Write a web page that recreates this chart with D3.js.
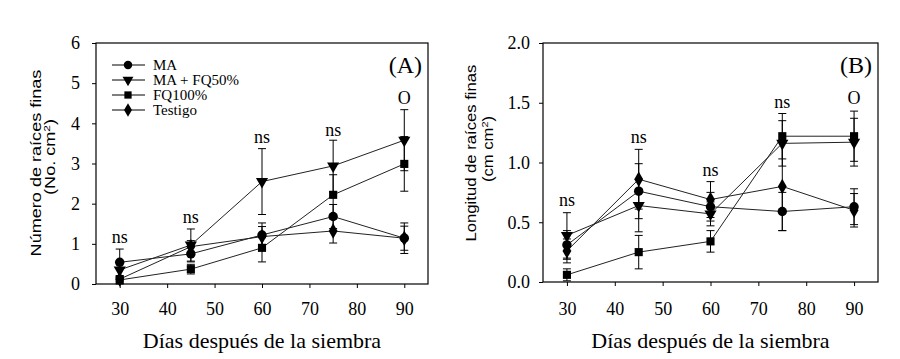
<!DOCTYPE html>
<html>
<head>
<meta charset="utf-8">
<script src="https://cdn.jsdelivr.net/npm/d3@7"></script>
<style>
  body { margin: 0; background: #fff; }
  svg { display: block; }
</style>
</head>
<body>
<svg id="chart" width="900" height="359"></svg>
<script>
const days = [30, 45, 60, 75, 90];
const seriesNames = ["MA", "MA + FQ50%", "FQ100%", "Testigo"];
const xTicks = [30, 40, 50, 60, 70, 80, 90];

// panel A: número de raíces finas
const aMA = [0.54, 0.75, 1.22, 1.68, 1.14];
const aMAFQ = [0.35, 0.97, 2.55, 2.94, 3.58];
const aFQ = [0.1, 0.37, 0.9, 2.22, 2.99];
const aTestigo = [0.12, 0.93, 1.18, 1.32, 1.14];
const aErrMA = [0.33, 0.2, 0.3, 0.3, 0.38];
const aErrMAFQ = [0.2, 0.4, 0.82, 0.64, 0.76];
const aErrFQ = [0.1, 0.12, 0.35, 0.5, 0.68];
const aErrTestigo = [0.05, 0.15, 0.25, 0.3, 0.3];
const aSig = ["ns", "ns", "ns", "ns", "O"];
const aSigY = [1.02, 1.52, 3.51, 3.68, 4.48];

// panel B: longitud de raíces finas
const bMA = [0.31, 0.76, 0.63, 0.59, 0.63];
const bMAFQ = [0.39, 0.64, 0.57, 1.16, 1.17];
const bFQ = [0.06, 0.25, 0.34, 1.22, 1.22];
const bTestigo = [0.26, 0.86, 0.69, 0.8, 0.6];
const bErrMA = [0.12, 0.23, 0.12, 0.16, 0.15];
const bErrMAFQ = [0.19, 0.22, 0.1, 0.19, 0.2];
const bErrFQ = [0.05, 0.14, 0.09, 0.19, 0.21];
const bErrTestigo = [0.1, 0.25, 0.15, 0.37, 0.14];
const bSig = ["ns", "ns", "ns", "ns", "O"];
const bSigY = [0.64, 1.16, 0.89, 1.46, 1.49];

const svg = d3.select("#chart");
const serif = "'Liberation Serif', 'Times New Roman', serif";
const sans = "'Liberation Sans', Arial, sans-serif";
const markers = [d3.symbolCircle, d3.symbolTriangle, d3.symbolSquare, d3.symbolDiamond];
const markerSize = [70, 64, 66, 68];

function drawPanel(opts) {
  const { left, right, top, bottom, yMax, yStep, yFmt, series, errors, sig, sigY, tag,
    yTitle, yTitleX, yTitleY, yTitleLen, xPad, yPad, showLegend } = opts;
  const g = svg.append("g");

  const x = d3.scaleLinear().domain([25, 95]).range([left, right]);
  const y = d3.scaleLinear().domain([0, yMax]).range([bottom, top]);

  // x axis
  const xAxis = g.append("g")
    .attr("transform", `translate(0,${bottom})`)
    .call(d3.axisBottom(x).tickValues(xTicks).tickSize(4).tickSizeOuter(0).tickPadding(xPad));
  xAxis.selectAll("text").style("font-family", serif).style("font-size", "18px").attr("fill", "#000");

  // y axis
  const yAxis = g.append("g")
    .attr("transform", `translate(${left},0)`)
    .call(d3.axisLeft(y).tickValues(d3.range(0, yMax + 1e-9, yStep)).tickFormat(d3.format(yFmt)).tickSize(4).tickSizeOuter(0).tickPadding(yPad));
  yAxis.selectAll("text").style("font-family", serif).style("font-size", "18px").attr("fill", "#000");
  g.selectAll(".domain").remove();

  // frame
  g.append("rect")
    .attr("x", left).attr("y", top)
    .attr("width", right - left).attr("height", bottom - top)
    .attr("fill", "none").attr("stroke", "#000").attr("stroke-width", 1.2);

  // error bars
  series.forEach((vals, si) => {
    vals.forEach((v, i) => {
      const e = errors[si][i];
      const cx = x(days[i]);
      g.append("line")
        .attr("x1", cx).attr("x2", cx)
        .attr("y1", y(v - e)).attr("y2", y(v + e))
        .attr("stroke", "#000").attr("stroke-width", 1);
      [v - e, v + e].forEach((c) => {
        g.append("line")
          .attr("x1", cx - 4).attr("x2", cx + 4)
          .attr("y1", y(c)).attr("y2", y(c))
          .attr("stroke", "#000").attr("stroke-width", 1);
      });
    });
  });

  // lines
  const line = d3.line().x((d, i) => x(days[i])).y((d) => y(d));
  series.forEach((vals) => {
    g.append("path")
      .attr("d", line(vals))
      .attr("fill", "none")
      .attr("stroke", "#222")
      .attr("stroke-width", 1);
  });

  // markers
  series.forEach((vals, si) => {
    g.selectAll(null)
      .data(vals)
      .enter()
      .append("path")
      .attr("d", d3.symbol().type(markers[si]).size(markerSize[si]))
      .attr("transform", (d, i) => `translate(${x(days[i])},${y(d)})${si === 1 ? " rotate(180)" : ""}`)
      .attr("fill", "#000");
  });

  // significance labels
  sig.forEach((s, i) => {
    g.append("text")
      .attr("x", x(days[i]))
      .attr("y", y(sigY[i]))
      .attr("text-anchor", "middle")
      .style("font-family", serif)
      .style("font-size", "18px")
      .text(s);
  });

  // panel tag
  g.append("text")
    .attr("x", right - 6)
    .attr("y", top + 30)
    .attr("text-anchor", "end")
    .style("font-family", serif)
    .style("font-size", "24px")
    .text(tag);

  // x title
  g.append("text")
    .attr("x", (left + right) / 2)
    .attr("y", 348)
    .attr("text-anchor", "middle")
    .style("font-family", serif)
    .style("font-size", "22px")
    .text("Días después de la siembra");

  // y title: two rotated lines, stretched along the reading direction like the source
  const t1 = g.append("text")
    .attr("text-anchor", "middle")
    .style("font-family", sans)
    .style("font-size", "14.5px")
    .text(yTitle[0]);
  const stretch = yTitleLen / t1.node().getComputedTextLength();
  t1.attr("transform", `translate(${yTitleX[0]},${yTitleY[0]}) rotate(-90) scale(${stretch},1)`);

  const t2 = g.append("text")
    .attr("text-anchor", "middle")
    .attr("transform", `translate(${yTitleX[1]},${yTitleY[1]}) rotate(-90) scale(${stretch},1)`)
    .style("font-family", sans)
    .style("font-size", "14.5px");
  t2.append("tspan").text(yTitle[1]);
  t2.append("tspan").style("font-size", "9.5px").attr("dy", "-5").text("2");
  t2.append("tspan").attr("dy", "5").text(")");

  if (showLegend) {
    const lg = g.selectAll(".legend")
      .data(seriesNames)
      .enter()
      .append("g")
      .attr("transform", (d, i) => `translate(${left + 16},${65 + i * 15})`);
    lg.append("line")
      .attr("x1", 0).attr("x2", 33)
      .attr("stroke", "#000").attr("stroke-width", 1);
    lg.append("path")
      .attr("d", (d, i) => d3.symbol().type(markers[i]).size(markerSize[i] * 0.8)())
      .attr("transform", (d, i) => `translate(16,0)${i === 1 ? " rotate(180)" : ""}`)
      .attr("fill", "#000");
    lg.append("text")
      .attr("x", 41)
      .attr("y", 5)
      .style("font-family", serif)
      .style("font-size", "15px")
      .text((d) => d);
  }
}

drawPanel({
  left: 96, right: 428, top: 43, bottom: 284,
  yMax: 6, yStep: 1, yFmt: "d",
  series: [aMA, aMAFQ, aFQ, aTestigo],
  errors: [aErrMA, aErrMAFQ, aErrFQ, aErrTestigo],
  sig: aSig, sigY: aSigY, tag: "(A)",
  yTitle: ["Número de raíces finas", "(No. cm"],
  yTitleX: [41, 55], yTitleY: [163, 157], yTitleLen: 187,
  xPad: 14, yPad: 12,
  showLegend: true,
});

drawPanel({
  left: 543, right: 878, top: 43, bottom: 282,
  yMax: 2, yStep: 0.5, yFmt: ".1f",
  series: [bMA, bMAFQ, bFQ, bTestigo],
  errors: [bErrMA, bErrMAFQ, bErrFQ, bErrTestigo],
  sig: bSig, sigY: bSigY, tag: "(B)",
  yTitle: ["Longitud de raíces finas", "(cm cm"],
  yTitleX: [476, 493], yTitleY: [153, 149], yTitleLen: 177,
  xPad: 16, yPad: 9,
  showLegend: false,
});
</script>
</body>
</html>
